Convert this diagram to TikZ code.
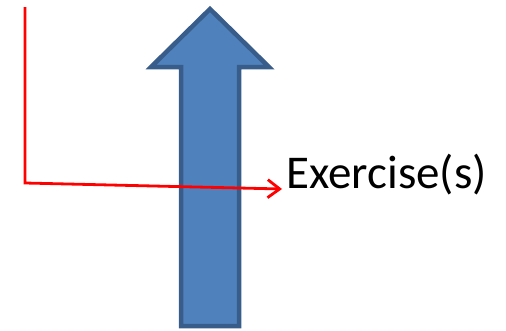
\documentclass[tikz,border=0pt]{standalone}
\usepackage{fontspec}
\setmainfont{Carlito}
\usetikzlibrary{arrows.meta}
\definecolor{arrowfill}{HTML}{4F81BD}
\definecolor{arrowline}{HTML}{385D8A}
\tikzset{
  blockarrow/.style={fill=arrowfill, draw=arrowline, line width=4.5pt, line join=miter},
  redline/.style={draw=red, line width=2.8pt, -{Straight Barb[length=12pt,width=18pt,line width=2.8pt]}},
  label/.style={font=\fontsize{47}{54}\selectfont, inner sep=0pt, anchor=base west}
}
\begin{document}
\begin{tikzpicture}[x=1pt,y=-1pt]
\useasboundingbox (0,0) rectangle (506,330);
\draw[blockarrow] (210,9) -- (269,67) -- (239,67) -- (239,326) -- (181,326) -- (181,67) -- (151,67) -- cycle;
\node[label] (ex) at (286,188) {Exercise(s)};
\coordinate (p0) at (25,7);
\coordinate (p1) at (25,183);
\coordinate (p2) at (282,189);
\draw[redline] (p0) -- (p1) -- (p2);
\end{tikzpicture}
\end{document}
